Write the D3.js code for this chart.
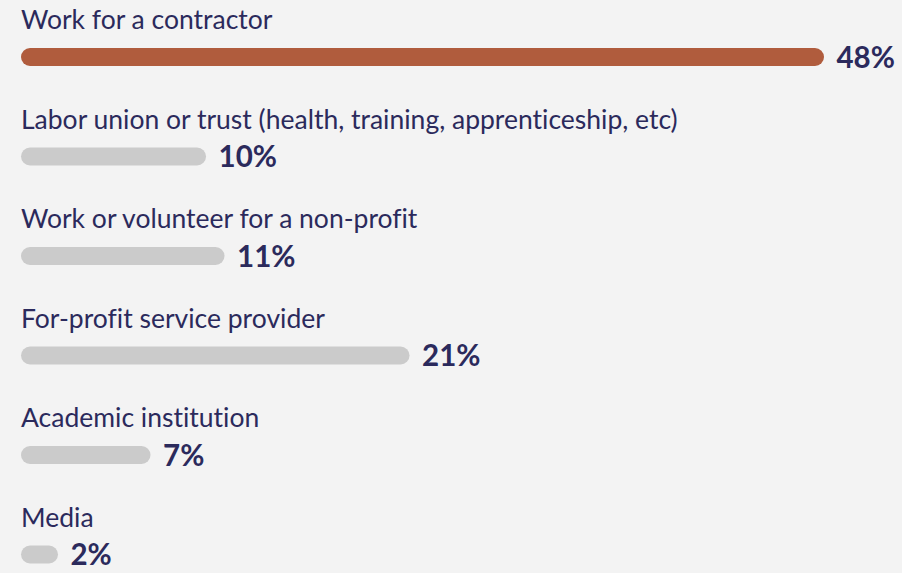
<!DOCTYPE html>
<html>
<head>
<meta charset="utf-8">
<script src="https://cdn.jsdelivr.net/npm/d3@7"></script>
<style>
	html, body { margin: 0; padding: 0; background: #f3f3f3; }
	svg { display: block; }
	text { font-variant-ligatures: no-common-ligatures; font-feature-settings: "liga" 0; }
</style>
</head>
<body>
<div id="chart"></div>
<script>
// Data
var categories = [
	'Work for a contractor',
	'Labor union or trust (health, training, apprenticeship, etc)',
	'Work or volunteer for a non-profit',
	'For-profit service provider',
	'Academic institution',
	'Media'
];
var values = [48, 10, 11, 21, 7, 2];
var highlight = [true, false, false, false, false, false];

var width = 902,
	height = 573,
	marginLeft = 21;

var svg = d3.select('#chart').append('svg')
	.attr('width', width)
	.attr('height', height);

svg.append('rect')
	.attr('width', width)
	.attr('height', height)
	.attr('fill', '#f3f3f3');

// bars run out of room for the top value, so it is clamped at the edge
var x = d3.scaleLinear()
	.domain([0, 43.4])
	.range([0, 803])
	.clamp(true);

var y = d3.scalePoint()
	.domain(categories)
	.range([57, 554.5]);

var barHeight = 18;

var rows = svg.selectAll('.row')
	.data(categories.map(function (d, i) { return { label: d, value: values[i], hi: highlight[i] }; }))
	.enter().append('g')
	.attr('class', 'row')
	.attr('transform', function (d) { return 'translate(' + marginLeft + ',' + y(d.label) + ')'; });

rows.append('text')
	.attr('x', 0)
	.attr('y', -28)
	.attr('fill', '#2b2a5c')
	.style('font-family', 'Lato, sans-serif')
	.style('font-size', '26.5px')
	.text(function (d) { return d.label; });

rows.append('rect')
	.attr('x', 0)
	.attr('y', -barHeight / 2)
	.attr('height', barHeight)
	.attr('width', function (d) { return x(d.value); })
	.attr('rx', barHeight / 2)
	.attr('fill', function (d) { return d.hi ? '#b05c3d' : '#cbcbcb'; });

rows.append('text')
	.attr('x', function (d) { return x(d.value) + 12.5; })
	.attr('y', 10.5)
	.attr('fill', '#2b2a5c')
	.style('font-family', 'Lato, sans-serif')
	.style('font-weight', 'bold')
	.style('font-size', '29.5px')
	.text(function (d) { return d.value + '%'; });
</script>
</body>
</html>
